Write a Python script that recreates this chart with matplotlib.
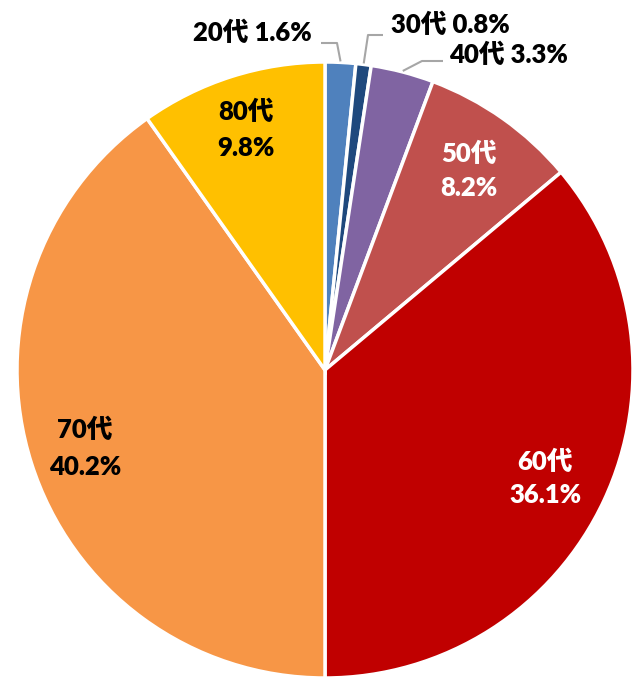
import numpy as np
import matplotlib
matplotlib.use("Agg")
import matplotlib.pyplot as plt

categories = ["20代", "30代", "40代", "50代", "60代", "70代", "80代"]
values = [1.6, 0.8, 3.3, 8.2, 36.1, 40.2, 9.8]
colors = ["#4F81BD", "#1F497D", "#8064A2", "#C0504D", "#C00000", "#F79646", "#FFC000"]

W, H = 635, 677
fig = plt.figure(figsize=(W / 100, H / 100), dpi=100)
ax = fig.add_axes([0, 0, 1, 1])
cx, cy, R = 325, H - 370, 308

wedges, _ = ax.pie(values, colors=colors, startangle=90, counterclock=False,
                   center=(cx, cy), radius=R,
                   wedgeprops=dict(edgecolor="white", linewidth=2.5))
ax.set_xlim(0, W)
ax.set_ylim(0, H)
ax.set_aspect("equal")
ax.axis("off")

fam = ["Lato", "Noto Sans CJK JP", "DejaVu Sans"]
fs = 18.5
fw = "heavy"

def py(y):
    return H - y

# inside labels: (index, x, y_top_line, color)
inside = {3: (469, 154, 188, "white"), 4: (545, 462, 495, "white"),
          5: (85, 430, 467, "black"), 6: (246, 112, 148, "black")}
for i, (x, y1, y2, c) in inside.items():
    ax.text(x, py(y1), categories[i], ha="center", va="center", fontsize=fs,
            fontweight=fw, color=c, family=fam)
    ax.text(x, py(y2), f"{values[i]}%", ha="center", va="center", fontsize=fs,
            fontweight=fw, color=c, family=fam)

# outside labels with leader lines
outside = {0: ((252, 33), [(337, 43), (321, 43)]),
           1: ((450, 25), [(368, 35), (383, 35)]),
           2: ((508, 55), [(422, 61), (443, 61)])}
for i, ((tx, ty), pts) in outside.items():
    w = wedges[i]
    mid = np.deg2rad((w.theta1 + w.theta2) / 2)
    sx = cx + (R + 1) * np.cos(mid)
    sy = cy + (R + 1) * np.sin(mid)
    xs = [sx] + [p[0] for p in pts]
    ys = [sy] + [py(p[1]) for p in pts]
    ax.plot(xs, ys, color="#A6A6A6", lw=1.5, solid_capstyle="butt")
    ax.text(tx, py(ty), f"{categories[i]} {values[i]}%", ha="center", va="center",
            fontsize=fs, fontweight=fw, color="black", family=fam)

fig.savefig("out.png", dpi=100)
